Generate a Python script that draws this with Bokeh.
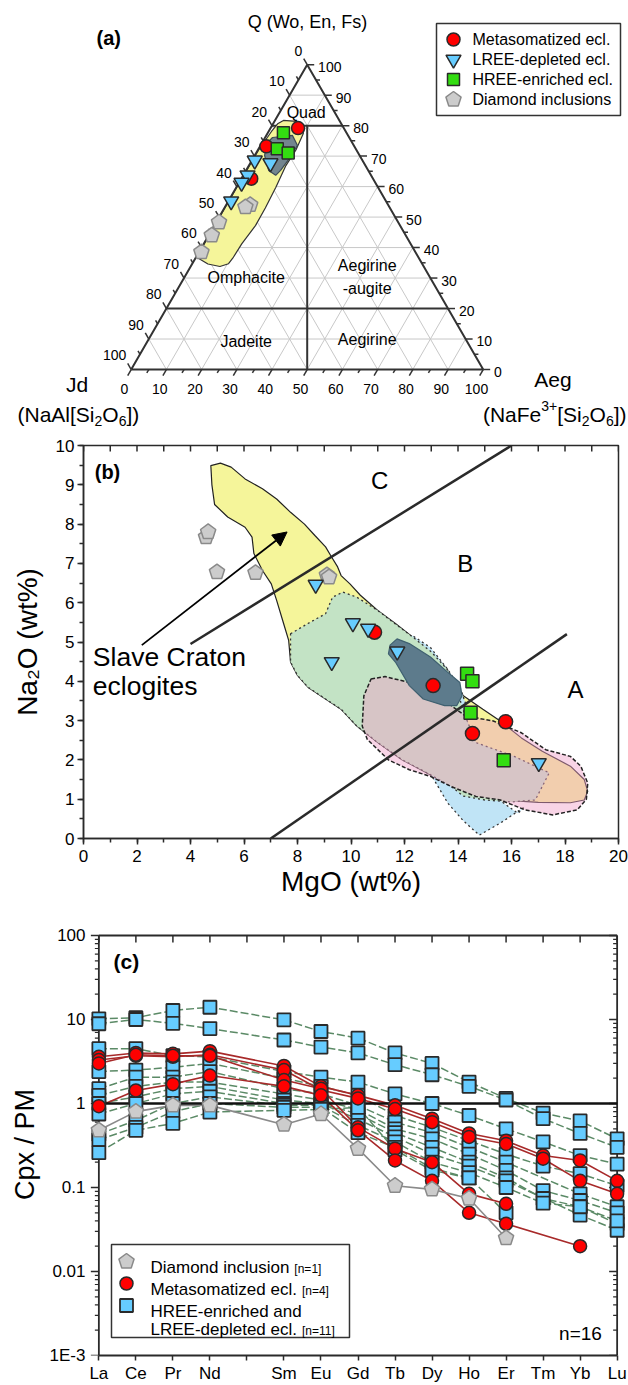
import numpy as np
from bokeh.plotting import figure
from bokeh.models import Range1d, FixedTicker, SingleIntervalTicker, Arrow, NormalHead
from bokeh.embed import file_html
from bokeh.resources import INLINE
from bokeh.core.properties import value

FONT = "Liberation Sans"
SQ = np.sqrt(3.0) / 2.0

# ---------------- panel (a) data: ternary, Q (Wo+En+Fs) and Aeg in %, Jd = 100 - Q - Aeg
a_meta_q = [79.2, 73.2, 62.6]
a_meta_aeg = [7.8, 1.8, 2.8]
a_hree_q = [77.7, 72.4, 71.0]
a_hree_aeg = [4.4, 5.3, 9.1]
a_lree_q = [68.6, 67.7, 63.7, 61.3, 55.2]
a_lree_aeg = [0.8, 5.7, 1.2, 0.7, 0.8]
a_dia_q = [54.0, 53.3, 48.3, 44.0, 38.5]
a_dia_aeg = [6.8, 5.8, 0.8, 0.9, 0.7]
a_yel_q = [81.7, 81.4, 79.5, 77.4, 72.0, 66.9, 59.8, 53.0, 47.2, 41.2, 36.5, 34.7, 33.8, 34.6, 36.8, 45.0, 60.0, 72.0, 78.0, 80.6]
a_yel_aeg = [2.4, 6.3, 9.0, 10.2, 10.8, 10.5, 11.2, 11.6, 11.7, 10.8, 10.6, 10.3, 8.3, 4.5, 0.2, 0.1, 0.1, 0.2, 0.8, 1.3]
a_dark_q = [76.1, 76.8, 73.5, 69.0, 65.3, 63.7, 65.3, 70.2, 74.1]
a_dark_aeg = [2.1, 7.4, 10.5, 10.3, 9.8, 9.2, 6.4, 2.8, 1.4]
a_ticks = list(range(0, 101, 10))

# ---------------- panel (b) data: MgO, Na2O wt%
b_meta_mgo = [10.88, 13.07, 15.78, 14.54]
b_meta_na2o = [5.25, 3.89, 2.97, 2.67]
b_lree_mgo = [8.68, 10.07, 10.64, 11.73, 9.28, 17.02]
b_lree_na2o = [6.46, 5.48, 5.34, 4.76, 4.49, 1.92]
b_hree_mgo = [14.34, 14.54, 14.47, 15.71]
b_hree_na2o = [4.19, 4.0, 3.2, 1.99]
b_dia_mgo = [4.58, 4.66, 4.99, 6.43, 9.1, 9.18]
b_dia_na2o = [7.67, 7.8, 6.78, 6.76, 6.7, 6.65]
b_yel_x = [4.76, 5.12, 5.52, 6.04, 6.69, 7.22, 7.74, 8.26, 8.65, 9.05, 9.24, 9.5, 9.63, 9.96, 10.35, 11.0, 11.66, 12.3, 12.97, 13.6,
           14.2, 14.93, 15.58, 16.37, 17.15, 18.2, 18.72, 18.85, 18.72, 18.2, 17.0, 15.58, 14.54, 13.75, 12.84, 11.92, 11.0, 10.22, 9.63, 9.05,
           8.39, 8.0, 7.74, 7.67, 7.48, 7.22, 7.02, 6.69, 6.37, 6.3, 6.04, 5.39, 4.9, 4.8]
b_yel_y = [9.49, 9.55, 9.45, 9.15, 8.9, 8.64, 8.3, 8.0, 7.71, 7.42, 7.2, 6.91, 6.69, 6.48, 6.19, 5.8, 5.47, 5.13, 4.8, 4.3,
           3.63, 3.29, 2.99, 2.56, 2.22, 1.84, 1.5, 1.2, 0.98, 0.91, 0.92, 0.98, 1.11, 1.32, 1.67, 2.0, 2.44, 2.86, 3.29, 3.55,
           3.85, 4.15, 4.49, 5.04, 5.47, 6.06, 6.48, 6.82, 7.25, 7.67, 7.92, 8.18, 8.5, 9.0]
b_grn_x = [7.74, 8.39, 9.05, 9.31, 9.7, 10.22, 11.0, 12.3, 13.0, 13.6, 13.9, 14.27, 14.67, 16.1, 17.41, 16.89, 16.0, 15.0, 14.2, 13.75,
           12.84, 11.92, 11.0, 10.22, 9.63, 9.05, 8.39, 8.0, 7.74]
b_grn_y = [5.21, 5.47, 5.72, 6.14, 6.27, 6.14, 5.8, 5.13, 4.75, 4.3, 3.9, 3.12, 2.44, 2.09, 1.67, 0.98, 0.93, 0.98, 1.08, 1.32,
           1.67, 2.0, 2.44, 2.86, 3.29, 3.55, 3.85, 4.15, 4.49]
b_blu_x = [11.3, 11.65, 12.3, 12.97, 13.62, 14.1, 14.3, 14.4, 14.6, 15.3, 16.24, 16.5, 15.6, 14.8, 14.2, 13.62, 13.1, 12.4, 11.6, 11.2]
b_blu_y = [4.8, 5.14, 5.16, 4.86, 4.3, 3.8, 3.4, 2.4, 1.5, 1.1, 0.64, 0.81, 0.4, 0.085, 0.45, 0.9, 1.5, 2.4, 3.3, 4.2]
b_slt_x = [11.46, 11.72, 12.18, 12.97, 13.6, 14.07, 14.15, 13.95, 13.5, 12.7, 12.18, 11.66, 11.4]
b_slt_y = [4.92, 5.08, 4.96, 4.62, 4.24, 3.97, 3.63, 3.38, 3.38, 3.55, 3.89, 4.49, 4.7]
b_pnk_x = [10.75, 11.27, 12.18, 12.97, 13.75, 14.27, 15.32, 16.37, 17.28, 18.2, 18.59, 18.85, 18.8, 18.46, 17.54, 16.5, 15.58, 14.67,
           13.75, 12.97, 12.18, 11.4, 10.61, 10.42, 10.48]
b_pnk_y = [4.06, 4.12, 3.97, 3.72, 3.38, 3.12, 2.99, 2.69, 2.26, 2.09, 1.84, 1.41, 1.0, 0.73, 0.6, 0.73, 0.98, 1.07,
           1.32, 1.58, 1.75, 2.0, 2.52, 2.86, 3.63]
b_line_cb_x = [4.0, 16.0]
b_line_cb_y = [4.95, 10.0]
b_line_ab_x = [7.0, 18.07]
b_line_ab_y = [0.0, 5.2]

# ---------------- panel (c) data: Cpx / primitive mantle
ree_labels = ["La", "Ce", "Pr", "Nd", "Pm", "Sm", "Eu", "Gd", "Tb", "Dy", "Ho", "Er", "Tm", "Yb", "Lu"]
N = None
c_dia = [[0.48, 0.80, 0.95, 0.95, N, 0.56, 0.75, 0.29, 0.105, 0.095, 0.074, 0.025, N, N, N]]
c_meta = [
    [3.6, 4.0, 3.9, 4.2, N, 2.8, 1.6, 1.25, 0.95, 0.66, 0.44, 0.36, 0.24, 0.21, 0.12],
    [3.3, 3.7, 3.6, 3.8, N, 2.5, 1.45, 1.15, 0.86, 0.60, 0.40, 0.33, 0.22, 0.12, 0.084],
    [3.0, 3.8, 3.7, 3.7, N, 1.9, 1.5, 0.52, 0.29, 0.20, 0.084, 0.064, N, N, N],
    [0.93, 1.43, 1.7, 2.15, N, 1.6, 1.25, 0.48, 0.21, 0.12, 0.05, 0.037, N, 0.02, N],
]
c_hree = [
    [10.2, 10.5, 12.8, 14.0, N, 9.9, 7.2, 6.0, 4.0, 3.0, 1.8, 1.15, 0.77, 0.62, 0.38],
    [8.9, 10.0, 9.0, 7.8, N, 5.7, 4.7, 4.0, 2.9, 2.2, 1.6, 1.1, 0.66, 0.44, 0.30],
    [4.5, 4.5, 3.7, 3.6, N, 2.4, 2.06, 1.8, 1.3, 1.0, 0.72, 0.50, 0.35, 0.24, 0.19],
    [2.4, 2.5, 2.7, 3.0, N, 2.0, 1.6, 1.25, 0.72, 0.52, 0.36, 0.25, 0.18, 0.146, 0.105],
    [1.5, 2.06, 2.06, 2.4, N, 1.5, 1.3, 0.95, 0.60, 0.45, 0.30, 0.20, N, 0.084, 0.059],
    [1.25, 1.6, 1.8, 1.8, N, 1.3, 1.1, 0.85, 0.50, 0.38, 0.25, 0.16, 0.092, 0.07, 0.05],
    [1.0, 1.2, 1.5, 1.6, N, 1.1, 1.0, 0.75, 0.45, 0.30, 0.20, 0.13, 0.074, 0.059, 0.037],
    [0.75, 1.0, 1.3, 1.4, N, 1.0, 1.0, 0.65, 0.40, 0.25, 0.18, 0.12, N, 0.047, 0.031],
    [0.43, 0.63, 1.0, 1.2, N, 0.95, 0.95, 0.55, 0.35, 0.20, 0.15, 0.10, 0.065, 0.059, 0.040],
    [0.37, 0.52, 0.8, 1.0, N, 0.9, 0.9, 0.45, 0.30, 0.17, 0.13, 0.05, N, N, N],
    [0.26, 0.48, 0.58, 0.79, N, 0.83, 0.85, 0.9, 0.28, 0.16, 0.13, N, N, N, N],
]

# ---------------- styling
RED = "#ff0000"
BLUE = "#66ccff"
GREEN = "#33dd11"
GREY = "#cccccc"
EDGE = "#2a2a2a"
DARK = "#2a2a2a"

W = {' ': 278, '(': 333, ')': 333, '[': 278, ']': 278, '+': 584, '-': 333, '.': 278, ',': 278, '=': 584, '%': 889, '/': 278,
     'A': 667, 'C': 722, 'D': 722, 'E': 667, 'F': 611, 'H': 722, 'J': 500, 'L': 556, 'M': 833, 'N': 722, 'O': 778, 'P': 667,
     'Q': 778, 'R': 722, 'S': 667, 'W': 944, 'a': 556, 'c': 500, 'd': 556, 'e': 556, 'g': 556, 'h': 556, 'i': 222, 'l': 222,
     'm': 833, 'n': 556, 'o': 556, 'p': 556, 'r': 333, 's': 500, 't': 278, 'u': 556, 'v': 500, 'z': 500}


def tw(s, size):
    return sum(W.get(ch, 556) for ch in s) * size / 1000.0


def add_text(p, x, y, s, size, align="left", baseline="middle", style="normal", color="black"):
    p.text(x=[x], y=[y], text=[s], text_font=value(FONT), text_font_size="%gpx" % size,
           text_align=align, text_baseline=baseline, text_font_style=style, text_color=color)


ANG = np.pi / 2 + np.arange(5) * 2 * np.pi / 5

# ======================= PANEL (a) =======================
PXA, AX0, AY0 = 3.52, 130.7, 369.0


def ax_(px):
    return (px - AX0) / PXA


def ay_(py):
    return (AY0 - py) / PXA


def tern(q, aeg):
    q = np.asarray(q, float)
    aeg = np.asarray(aeg, float)
    return aeg + q / 2.0, q * SQ


pa = figure(width=628, height=430, x_range=Range1d(ax_(0), ax_(628)), y_range=Range1d(ay_(430), ay_(0)),
            x_axis_location=None, y_axis_location=None, min_border=0, toolbar_location=None, output_backend="svg")
pa.grid.visible = False
pa.outline_line_color = None

gx, gy = [], []
for k in range(10, 100, 10):
    for (q1, a1), (q2, a2) in [((k, 0), (k, 100 - k)), ((0, k), (100 - k, k)), ((0, 100 - k), (100 - k, 0))]:
        x, y = tern([q1, q2], [a1, a2])
        gx.append(list(x))
        gy.append(list(y))
pa.multi_line(gx, gy, line_color="#c8c8c8", line_width=1)

dx, dy = [], []
for (q1, a1), (q2, a2) in [((80, 0), (80, 20)), ((20, 0), (20, 80)), ((0, 50), (80, 10))]:
    x, y = tern([q1, q2], [a1, a2])
    dx.append(list(x))
    dy.append(list(y))
pa.multi_line(dx, dy, line_color="#333333", line_width=2)

yx, yy = tern(a_yel_q, a_yel_aeg)
pa.patch(list(yx), list(yy), fill_color="#f5f59a", line_color="#333333", line_width=1.2)
kx, ky = tern(a_dark_q, a_dark_aeg)
pa.patch(list(kx), list(ky), fill_color="#73858f", line_color="#3d4b55", line_width=1.2)

tx, ty = tern([0, 100, 0, 0], [0, 0, 100, 0])
pa.line(list(tx), list(ty), line_color="#333333", line_width=2)

tkx, tky = [], []
for v in range(0, 101, 5):
    L = (7.0 if v % 10 == 0 else 4.0) / PXA
    bx_, by_ = v, 0.0
    tkx.append([bx_, bx_ - 0.5 * L]); tky.append([by_, by_ - SQ * L])
    rx, ry = 100 - v / 2.0, v * SQ
    tkx.append([rx, rx + L]); tky.append([ry, ry])
    lx, ly = (100 - v) / 2.0, (100 - v) * SQ
    tkx.append([lx, lx - 0.5 * L]); tky.append([ly, ly + SQ * L])
pa.multi_line(tkx, tky, line_color="#333333", line_width=1.5)

for k in a_ticks:
    lx, ly = (100 - k) / 2.0, (100 - k) * SQ
    add_text(pa, lx - 1.4, ly + 4.0, str(k), 14, align="right")
    rx, ry = 100 - k / 2.0, k * SQ
    add_text(pa, rx + 3.1, ry - 0.7, str(k), 14, align="left")
    add_text(pa, k - 1.9, -5.4, str(k), 14, align="center")

mx, my = tern(a_meta_q, a_meta_aeg)
pa.scatter(list(mx), list(my), marker="circle", size=13, fill_color=RED, line_color=EDGE, line_width=1.5)
hx, hy = tern(a_hree_q, a_hree_aeg)
pa.scatter(list(hx), list(hy), marker="square", size=12, fill_color=GREEN, line_color=EDGE, line_width=1.5)
lx_, ly_ = tern(a_lree_q, a_lree_aeg)
pa.scatter(list(lx_), list(ly_), marker="inverted_triangle", size=15, fill_color=BLUE, line_color=EDGE, line_width=1.5)
px_, py_ = tern(a_dia_q, a_dia_aeg)
rr = 8.0 / PXA
pa.patches([list(x + rr * np.cos(ANG)) for x in px_], [list(y + rr * np.sin(ANG)) for y in py_],
           fill_color=GREY, line_color="#8a8a8a", line_width=1.5)

add_text(pa, ax_(96), ay_(37), "(a)", 20, style="bold")
add_text(pa, ax_(307), ay_(21), "Q (Wo, En, Fs)", 18, align="center")
add_text(pa, ax_(305.7), ay_(111.7), "Quad", 16, align="center")
add_text(pa, ax_(245.7), ay_(276.7), "Omphacite", 16, align="center")
add_text(pa, ax_(366.7), ay_(265), "Aegirine", 16, align="center")
add_text(pa, ax_(366.7), ay_(288.3), "-augite", 16, align="center")
add_text(pa, ax_(245.7), ay_(340.7), "Jadeite", 16, align="center")
add_text(pa, ax_(366.7), ay_(339), "Aegirine", 16, align="center")
add_text(pa, ax_(76.7), ay_(384), "Jd", 21, align="center")
add_text(pa, ax_(552.5), ay_(379), "Aeg", 21, align="center")


def compose(p, start_px, base_py, pieces):
    x = start_px
    for s, size, off in pieces:
        p.text(x=[ax_(x)], y=[ay_(base_py + off)], text=[s], text_font=value(FONT), text_font_size="%gpx" % size,
               text_align="left", text_baseline="alphabetic", text_color="black")
        x += tw(s, size)


pieces1 = [("(NaAl[Si", 21, 0), ("2", 14, 6), ("O", 21, 0), ("6", 14, 6), ("])", 21, 0)]
compose(pa, 17, 414, pieces1)
pieces2 = [("(NaFe", 21, 0), ("3+", 14, -9), ("[Si", 21, 0), ("2", 14, 6), ("O", 21, 0), ("6", 14, 6), ("])", 21, 0)]
compose(pa, 626 - sum(tw(s, z) for s, z, o in pieces2), 414, pieces2)

pa.quad(left=[ax_(436)], right=[ax_(620)], top=[ay_(23)], bottom=[ay_(115)], fill_color="white",
        line_color="#333333", line_width=1.5)
rows = [39, 59, 79, 99]
pa.scatter([ax_(453)], [ay_(rows[0])], marker="circle", size=13, fill_color=RED, line_color=EDGE, line_width=1.5)
pa.scatter([ax_(453)], [ay_(rows[1])], marker="inverted_triangle", size=15, fill_color=BLUE, line_color=EDGE, line_width=1.5)
pa.scatter([ax_(453)], [ay_(rows[2])], marker="square", size=12, fill_color=GREEN, line_color=EDGE, line_width=1.5)
pa.patches([list(ax_(453) + rr * np.cos(ANG))], [list(ay_(rows[3]) + rr * np.sin(ANG))],
           fill_color=GREY, line_color="#8a8a8a", line_width=1.5)
for r, s in zip(rows, ["Metasomatized ecl.", "LREE-depleted ecl.", "HREE-enriched ecl.", "Diamond inclusions"]):
    add_text(pa, ax_(472), ay_(r), s, 16)

# ======================= PANEL (b) =======================
pb = figure(width=628, height=475, x_range=Range1d(0, 20), y_range=Range1d(0, 10),
            min_border_left=83, min_border_right=10, min_border_top=15, min_border_bottom=67,
            toolbar_location=None, output_backend="svg")
pb.grid.visible = False
pb.outline_line_color = DARK
pb.outline_line_width = 1.5
pb.xaxis.ticker = SingleIntervalTicker(interval=2, num_minor_ticks=2)
pb.yaxis.ticker = SingleIntervalTicker(interval=1, num_minor_ticks=2)
for axis in (pb.xaxis[0], pb.yaxis[0]):
    axis.major_tick_out = 6
    axis.major_tick_in = 0
    axis.minor_tick_out = 4
    axis.minor_tick_in = 0
    axis.axis_line_width = 1.5
    axis.axis_line_color = DARK
    axis.major_tick_line_width = 1.5
    axis.minor_tick_line_width = 1.5
    axis.major_tick_line_color = DARK
    axis.minor_tick_line_color = DARK
    axis.major_label_text_font = FONT
    axis.major_label_text_font_size = "17px"
    axis.major_label_text_color = "black"
    axis.axis_label_text_font = FONT
    axis.axis_label_text_font_size = "28px"
    axis.axis_label_text_font_style = "normal"
    axis.axis_label_text_color = "black"
pb.xaxis.axis_label = "MgO (wt%)"
pb.yaxis.axis_label = "Na\u2082O (wt%)"
pb.xaxis.major_label_standoff = 5
pb.xaxis.axis_label_standoff = 1
pb.yaxis.major_label_standoff = 3
pb.yaxis.axis_label_standoff = 10

tl = 6.0 / 39.3
pb.segment(x0=list(range(0, 21)), y0=[10] * 21, x1=list(range(0, 21)), y1=[10 - tl] * 21, line_color=DARK, line_width=1.5)

pb.patch(b_yel_x, b_yel_y, fill_color="#f5f59a", line_color="#222222", line_width=1.2)
pb.patch(b_blu_x, b_blu_y, fill_color="#c0e4f6", line_color="#333333", line_width=1.3, line_dash="2 3")
pb.patch(b_grn_x, b_grn_y, fill_color="#c3e3c5", line_color="#333333", line_width=1.3, line_dash="2 3")
pb.patch(b_pnk_x, b_pnk_y, fill_color="#f0a0c8", fill_alpha=0.45, line_color="#222222", line_width=1.5, line_dash="4 2")
pb.patch(b_slt_x, b_slt_y, fill_color="#5d7b8c", line_color="#3f6070", line_width=1.2)

pb.line(b_line_cb_x, b_line_cb_y, line_color=DARK, line_width=2.5)
pb.line(b_line_ab_x, b_line_ab_y, line_color=DARK, line_width=2.5)
pb.add_layout(Arrow(end=NormalHead(size=14, fill_color="black", line_color="black"),
                    x_start=2.18, y_start=4.92, x_end=7.61, y_end=7.8, line_width=1.8, line_color="black"))

rb = 8.0
pb.patches([list(x + rb * np.cos(ANG) / 26.75) for x in b_dia_mgo], [list(y + rb * np.sin(ANG) / 39.3) for y in b_dia_na2o],
           fill_color=GREY, line_color="#8a8a8a", line_width=1.5)
pb.scatter(b_meta_mgo, b_meta_na2o, marker="circle", size=14, fill_color=RED, line_color=EDGE, line_width=1.5)
pb.scatter(b_hree_mgo, b_hree_na2o, marker="square", size=13, fill_color=GREEN, line_color=EDGE, line_width=1.5)
pb.scatter(b_lree_mgo, b_lree_na2o, marker="inverted_triangle", size=15, fill_color=BLUE, line_color=EDGE, line_width=1.5)

add_text(pb, 0.42, 9.32, "(b)", 20, style="bold")
add_text(pb, 11.07, 9.11, "C", 24, align="center")
add_text(pb, 14.27, 7.0, "B", 24, align="center")
add_text(pb, 18.39, 3.8, "A", 24, align="center")
add_text(pb, 0.35, 4.62, "Slave Craton", 26.5)
add_text(pb, 0.35, 3.89, "eclogites", 26.5)

# ======================= PANEL (c) =======================
SX = 37.02
DEC = 84.0
YTOP = 100 * 10 ** (2.0 / DEC)


def cx(px):
    return (px - 98.37) / SX


def cy(py):
    return 10 ** ((1103.0 - py) / DEC)


pc = figure(width=628, height=480, x_range=Range1d(-0.28, 14.28), y_range=Range1d(1e-3, YTOP), y_axis_type="log",
            min_border_left=88, min_border_right=1, min_border_top=28, min_border_bottom=30,
            toolbar_location=None, output_backend="svg")
pc.grid.visible = False
pc.outline_line_color = None

lab_pos = [i for i in range(15) if i != 4]
bx = pc.below[0]
bx.ticker = FixedTicker(ticks=lab_pos, minor_ticks=[4])
bx.major_label_overrides = {i: ree_labels[i] for i in lab_pos}
bx.bounds = (0, 14)
bx.major_tick_out = 5
bx.major_tick_in = 0
bx.minor_tick_out = 5
bx.minor_tick_in = 0
bx.axis_line_width = 1.8
bx.axis_line_color = DARK
bx.major_tick_line_width = 1.5
bx.major_tick_line_color = DARK
bx.minor_tick_line_width = 1.5
bx.minor_tick_line_color = DARK
bx.major_label_standoff = 3
bx.major_label_text_font = FONT
bx.major_label_text_font_size = "17px"
bx.major_label_text_color = "black"

ly = pc.left[0]
ly.ticker = FixedTicker(ticks=[0.001, 0.01, 0.1, 1, 10, 100])
ly.major_label_overrides = {0.001: "1E-3", 0.01: "0.01", 0.1: "0.1", 1: "1", 10: "10", 100: "100"}
ly.axis_line_color = None
ly.major_tick_out = 0
ly.major_tick_in = 0
ly.minor_tick_out = 0
ly.minor_tick_in = 0
ly.major_label_standoff = 3
ly.major_label_text_font = FONT
ly.major_label_text_font_size = "17px"
ly.major_label_text_color = "black"
ly.axis_label = "Cpx / PM"
ly.axis_label_text_font = FONT
ly.axis_label_text_font_size = "27px"
ly.axis_label_text_font_style = "normal"
ly.axis_label_text_color = "black"
ly.axis_label_standoff = 7

pc.line([0, 0], [1e-3, 100], line_color=DARK, line_width=1.8)
pc.line([14, 14], [1e-3, 100], line_color=DARK, line_width=1.8)
pc.line([0, 14], [100, 100], line_color=DARK, line_width=1.8)
ttop = 100 / 10 ** (7.0 / DEC)
pc.segment(x0=list(range(15)), y0=[100] * 15, x1=list(range(15)), y1=[ttop] * 15, line_color=DARK, line_width=1.5)
majv = [10.0 ** n for n in range(-3, 3)]
minv = [k * 10.0 ** n for n in range(-3, 2) for k in range(2, 10)]
pc.segment(x0=[-8 / SX] * len(majv), y0=majv, x1=[0] * len(majv), y1=majv, line_color=DARK, line_width=1.5)
pc.segment(x0=[-4 / SX] * len(minv), y0=minv, x1=[0] * len(minv), y1=minv, line_color=DARK, line_width=1.2)
pc.segment(x0=[14] * len(majv), y0=majv, x1=[14 - 8 / SX] * len(majv), y1=majv, line_color=DARK, line_width=1.5)
pc.segment(x0=[14] * len(minv), y0=minv, x1=[14 - 4 / SX] * len(minv), y1=minv, line_color=DARK, line_width=1.2)


def series(vals):
    xs = [i for i, v in enumerate(vals) if v is not None]
    ys = [v for v in vals if v is not None]
    return xs, ys


for s in c_hree:
    xs, ys = series(s)
    pc.line(xs, ys, line_color="#5b8a66", line_width=1.5, line_dash="8 3")
for s in c_meta:
    xs, ys = series(s)
    pc.line(xs, ys, line_color="#a82a2a", line_width=1.6)
for s in c_dia:
    xs, ys = series(s)
    pc.line(xs, ys, line_color="#8a8a8a", line_width=1.6)
pc.line([0, 14], [1, 1], line_color="#111111", line_width=2.5)

hx_all, hy_all = [], []
for s in c_hree:
    xs, ys = series(s)
    hx_all += xs
    hy_all += ys
pc.scatter(hx_all, hy_all, marker="square", size=13, fill_color=BLUE, line_color=EDGE, line_width=1.8)
mx_all, my_all = [], []
for s in c_meta:
    xs, ys = series(s)
    mx_all += xs
    my_all += ys
pc.scatter(mx_all, my_all, marker="circle", size=13, fill_color=RED, line_color=EDGE, line_width=1.5)
rc = 8.0
for s in c_dia:
    xs, ys = series(s)
    pc.patches([list(x + rc * np.cos(ANG) / SX) for x in xs], [list(y * 10 ** (rc * np.sin(ANG) / DEC)) for y in ys],
               fill_color=GREY, line_color="#8a8a8a", line_width=1.5)

add_text(pc, cx(113), cy(961), "(c)", 21, style="bold")
add_text(pc, cx(580), cy(1333), "n=16", 19, align="center")

pc.quad(left=[cx(111)], right=[cx(349)], top=[cy(1244)], bottom=[cy(1337)], fill_color="white",
        line_color="#333333", line_width=1.5)
lgx = cx(126)
pc.patches([list(lgx + rc * np.cos(ANG) / SX)], [list(cy(1261) * 10 ** (rc * np.sin(ANG) / DEC))],
           fill_color=GREY, line_color="#8a8a8a", line_width=1.5)
pc.scatter([lgx], [cy(1283)], marker="circle", size=13, fill_color=RED, line_color=EDGE, line_width=1.5)
pc.scatter([lgx], [cy(1305)], marker="square", size=13, fill_color=BLUE, line_color=EDGE, line_width=1.8)
leg_rows = [(1267, "Diamond inclusion", "[n=1]"), (1289, "Metasomatized ecl.", "[n=4]"),
            (1311, "HREE-enriched and", ""), (1329, "LREE-depleted ecl.", "[n=11]")]
for py, s, br in leg_rows:
    pc.text(x=[cx(150)], y=[cy(py)], text=[s], text_font=value(FONT), text_font_size="17px",
            text_align="left", text_baseline="alphabetic", text_color="black")
    if br:
        pc.text(x=[cx(150 + tw(s, 17) + 5)], y=[cy(py + 1)], text=[br], text_font=value(FONT), text_font_size="12px",
                text_align="left", text_baseline="alphabetic", text_color="black")

open("out.html", "w").write(file_html([pa, pb, pc], INLINE))
